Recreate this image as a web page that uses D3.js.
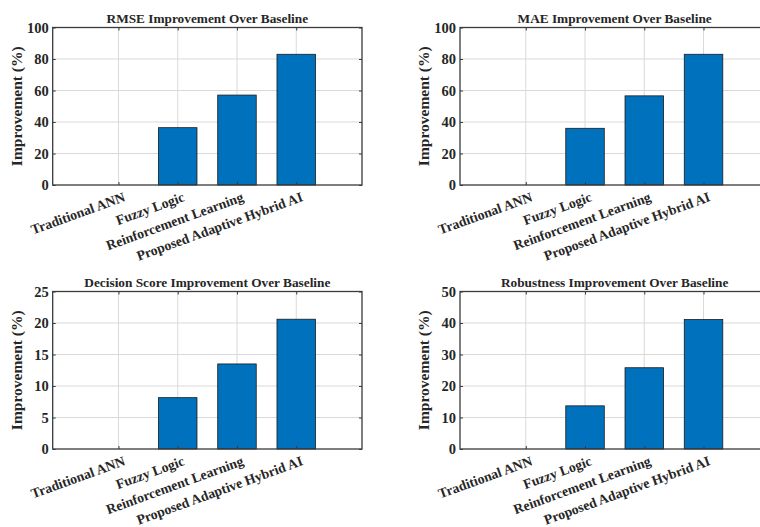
<!DOCTYPE html>
<html>
<head>
<meta charset="utf-8">
<script src="https://cdn.jsdelivr.net/npm/d3@7"></script>
<style>
  html, body { margin: 0; padding: 0; background: #fff; }
  svg { display: block; }
  text { font-family: "Liberation Serif", "Times New Roman", serif; font-weight: bold; fill: #262626; }
</style>
</head>
<body>
<svg id="chart" width="760" height="527"></svg>
<script>
// Methods compared in every panel
const methods = ["Traditional ANN", "Fuzzy Logic", "Reinforcement Learning", "Proposed Adaptive Hybrid AI"];

// Improvement over the baseline (%) for each metric
const rmseImprovement = [0, 36.4, 57.1, 83.0];
const maeImprovement = [0, 36.0, 56.6, 83.0];
const decisionImprovement = [0, 8.15, 13.5, 20.6];
const robustnessImprovement = [0, 13.7, 25.8, 41.1];

// Panel titles and y tick values
const panelTitles = [
  "RMSE Improvement Over Baseline",
  "MAE Improvement Over Baseline",
  "Decision Score Improvement Over Baseline",
  "Robustness Improvement Over Baseline"
];
const yTicksPct100 = [0, 20, 40, 60, 80, 100];
const yTicksPct25 = [0, 5, 10, 15, 20, 25];
const yTicksPct50 = [0, 10, 20, 30, 40, 50];
const yLabel = "Improvement (%)";

const panels = [
  { title: panelTitles[0], values: rmseImprovement, ticks: yTicksPct100, x: 52.7, y: 27.5 },
  { title: panelTitles[1], values: maeImprovement, ticks: yTicksPct100, x: 460, y: 27.5 },
  { title: panelTitles[2], values: decisionImprovement, ticks: yTicksPct25, x: 52.7, y: 291.5 },
  { title: panelTitles[3], values: robustnessImprovement, ticks: yTicksPct50, x: 460, y: 291.5 }
];

const W = 309.3, H = 157.5;
const barColor = "#0072BD";
const frameColor = "#3a3a3a";
const gridColor = "#d9d9d9";

const svg = d3.select("#chart");

panels.forEach(p => {
  const g = svg.append("g").attr("transform", `translate(${p.x},${p.y})`);

  const x = d3.scaleLinear().domain([-0.11, 5.11]).range([0, W]);
  const yMax = p.ticks[p.ticks.length - 1];
  const y = d3.scaleLinear().domain([0, yMax]).range([H, 0]);
  const idx = methods.map((_, i) => i + 1);

  // grid
  g.selectAll(".gx").data(idx).enter().append("line")
    .attr("x1", d => x(d)).attr("x2", d => x(d))
    .attr("y1", 0).attr("y2", H)
    .attr("stroke", gridColor).attr("stroke-width", 1);
  g.selectAll(".gy").data(p.ticks.slice(1, -1)).enter().append("line")
    .attr("x1", 0).attr("x2", W)
    .attr("y1", d => y(d)).attr("y2", d => y(d))
    .attr("stroke", gridColor).attr("stroke-width", 1);

  // bars
  const bw = 0.65;
  g.selectAll(".bar").data(p.values).enter().append("rect")
    .attr("x", (d, i) => x(i + 1 - bw / 2))
    .attr("width", x(bw) - x(0))
    .attr("y", d => y(d))
    .attr("height", d => H - y(d))
    .attr("fill", barColor)
    .attr("stroke", d => d > 0 ? "#1a1a1a" : "none")
    .attr("stroke-width", 0.8);

  // axes with inward ticks
  const tl = -3;
  const left = d3.axisLeft(y).tickValues(p.ticks).tickSize(tl).tickPadding(4).tickFormat(d3.format("d"));
  const right = d3.axisRight(y).tickValues(p.ticks).tickSize(tl).tickFormat("");
  const bottom = d3.axisBottom(x).tickValues(idx).tickSize(tl).tickFormat("");
  const top = d3.axisTop(x).tickValues(idx).tickSize(tl).tickFormat("");

  const styleAxis = sel => {
    sel.selectAll(".tick line").attr("stroke", frameColor);
  };

  g.append("g").call(left).call(styleAxis)
    .selectAll("text").style("font-size", "14.5px").attr("fill", "#262626");
  g.append("g").attr("transform", `translate(${W},0)`).call(right).call(styleAxis);
  g.append("g").attr("transform", `translate(0,${H})`).call(bottom).call(styleAxis);
  g.append("g").call(top).call(styleAxis);
  g.selectAll(".domain").remove();
  g.append("rect").attr("x", 0).attr("y", 0).attr("width", W).attr("height", H)
    .attr("fill", "none").attr("stroke", frameColor).attr("stroke-width", 1.3);

  // category labels, rotated
  g.selectAll(".xl").data(methods).enter().append("text")
    .attr("transform", (d, i) => `translate(${x(i + 1) + 4},${H + 6}) rotate(-20)`)
    .attr("text-anchor", "end")
    .attr("dy", "0.75em")
    .style("font-size", "13.8px")
    .text(d => d);

  // title
  g.append("text")
    .attr("x", W / 2).attr("y", -5)
    .attr("text-anchor", "middle")
    .style("font-size", "13.3px")
    .text(p.title);

  // y label
  g.append("text")
    .attr("transform", `translate(-31,${H / 2}) rotate(-90)`)
    .attr("text-anchor", "middle")
    .style("font-size", "15.5px")
    .text(yLabel);
});
</script>
</body>
</html>
